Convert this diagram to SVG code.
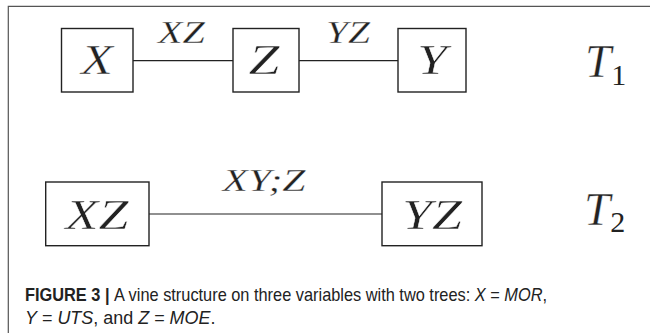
<svg xmlns="http://www.w3.org/2000/svg" width="650" height="333" viewBox="0 0 650 333">
<style>
.frame{fill:none;stroke:#555;stroke-width:1.2}
.box{fill:#fff;stroke:#222;stroke-width:1.4}
.edge{stroke:#222;stroke-width:1.2;fill:none}
.m{font-family:"Liberation Serif","DejaVu Serif",serif;font-style:italic;fill:#222;stroke:#fff;stroke-width:0.45}
.node{font-size:43px;text-anchor:middle}
.lab{font-size:31px;text-anchor:middle;stroke-width:0.3}
.t{font-size:47px}
.sub{font-style:normal;font-size:30px;stroke:none}
.cap{font-family:"Liberation Sans",Arial,sans-serif;font-size:18.5px;fill:#222}
.b{font-weight:bold}
.i{font-style:italic}
</style>
<path class="frame" d="M8.3 340 V6.3 H660"/>
<g id="connectors">
<line class="edge" x1="133" y1="60.7" x2="233" y2="60.7"/>
<line class="edge" x1="299" y1="60.7" x2="398" y2="60.7"/>
<line class="edge" x1="149" y1="214" x2="382" y2="214"/>
<text class="m lab" x="181.5" y="43" textLength="47" lengthAdjust="spacingAndGlyphs">XZ</text>
<text class="m lab" x="348" y="43" textLength="44" lengthAdjust="spacingAndGlyphs">YZ</text>
<text class="m lab" x="264" y="191" font-size="29" textLength="83" lengthAdjust="spacingAndGlyphs">XY;Z</text>
</g>
<g id="node-X">
<rect class="box" x="61.5" y="28.5" width="71.5" height="63.5"/>
<text class="m node" x="97" y="74" textLength="32" lengthAdjust="spacingAndGlyphs">X</text>
</g>
<g id="node-Z">
<rect class="box" x="233" y="28.5" width="66" height="63.5"/>
<text class="m node" x="264" y="74" textLength="31" lengthAdjust="spacingAndGlyphs">Z</text>
</g>
<g id="node-Y">
<rect class="box" x="398" y="28.5" width="68" height="63.5"/>
<text class="m node" x="432" y="74" textLength="30" lengthAdjust="spacingAndGlyphs">Y</text>
</g>
<g id="node-XZ">
<rect class="box" x="45.7" y="182" width="103.3" height="63.7"/>
<text class="m node" x="97" y="229" textLength="63" lengthAdjust="spacingAndGlyphs">XZ</text>
</g>
<g id="node-YZ">
<rect class="box" x="382" y="182" width="100" height="63.7"/>
<text class="m node" x="432" y="229" textLength="60" lengthAdjust="spacingAndGlyphs">YZ</text>
</g>
<g id="label-T1">
<text class="m t" x="585" y="77">T<tspan class="sub" dy="8">1</tspan></text>
</g>
<g id="label-T2">
<text class="m t" x="584" y="225" font-size="45">T<tspan class="sub" dy="7" font-size="29">2</tspan></text>
</g>
<g id="caption">
<text class="cap" transform="translate(25 301) scale(0.884 1)"><tspan class="b">FIGURE 3 | </tspan>A vine structure on three variables with two trees: <tspan class="i">X</tspan> = <tspan class="i">MOR</tspan>,</text>
<text class="cap" transform="translate(25 324) scale(0.97 1)"><tspan class="i">Y</tspan> = <tspan class="i">UTS</tspan>, and <tspan class="i">Z</tspan> = <tspan class="i">MOE</tspan>.</text>
</g>
</svg>
